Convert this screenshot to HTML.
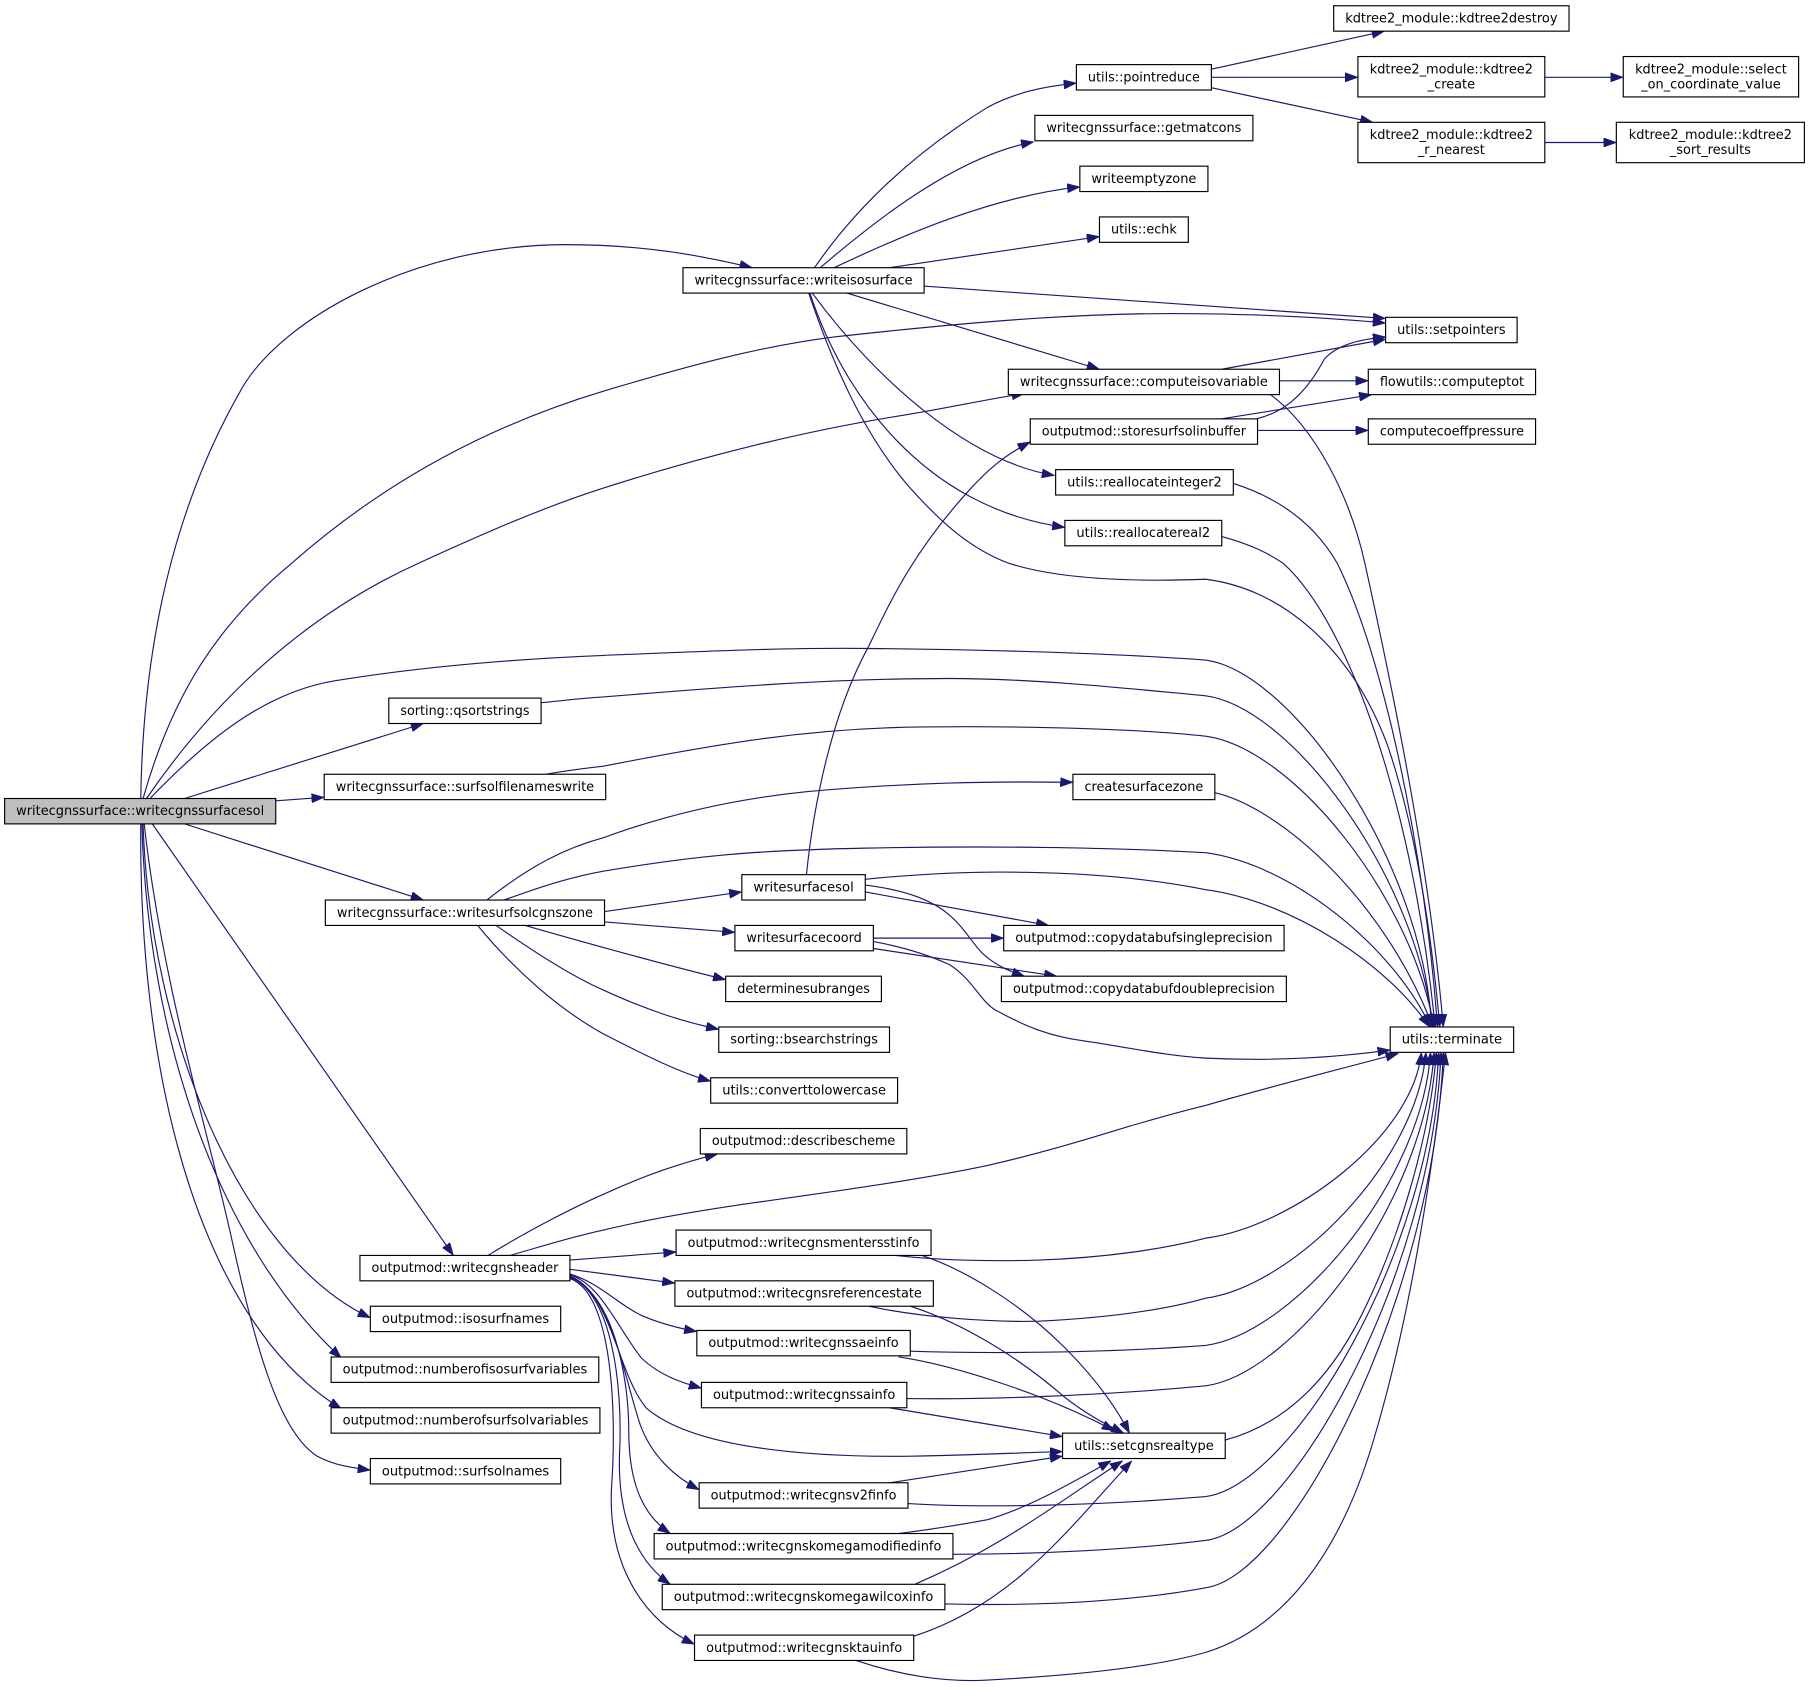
<!DOCTYPE html>
<html><head><meta charset="utf-8"><style>
html,body{margin:0;padding:0;background:#fff;}
svg{display:block;}
text{font-family:"DejaVu Sans","Liberation Sans",sans-serif;font-size:11.2px;fill:#000;}
</style></head><body>
<svg xmlns="http://www.w3.org/2000/svg" width="1809" height="1687" viewBox="0 0 1568 1462" preserveAspectRatio="none">
<defs>
<marker id="a" viewBox="0 0 11 8" refX="11" refY="4" markerWidth="11" markerHeight="8" markerUnits="userSpaceOnUse" orient="auto">
<path d="M0,0 L11,4 L0,8 z" fill="#191970" stroke="#191970" stroke-width="0.5"/>
</marker>
</defs>
<rect width="1568" height="1462" fill="#fff"/>
<g fill="none" stroke="#191970" stroke-width="1" marker-end="url(#a)">
<path d="M122,692 C124,560 150,440 210,336 C245,276 360,212 490,212 C560,212 610,222 652,232"/>
<path d="M124,692 C150,600 190,540 253,488 C330,420 420,370 523,339 C600,316 660,300 723,292 C850,278 950,270 1045,272 C1110,273 1160,276 1201,280"/>
<path d="M127,692 C190,600 270,530 363,488 C420,462 470,440 523,423 C610,395 700,373 776,361 C820,354 855,346 888,341"/>
<path d="M130,692 C180,640 230,600 290,590 C370,577 450,571 523,568 C600,565 680,561 753,562 C850,563 960,566 1045,572 C1120,582 1233,746 1241,890"/>
<path d="M160,692 L367,627"/>
<path d="M239,694 L281,691"/>
<path d="M160,714 L367,780"/>
<path d="M132,714 L393,1088"/>
<path d="M124,714 C130,900 210,1090 321,1142"/>
<path d="M123,714 C128,900 190,1080 296,1177"/>
<path d="M122,714 C120,950 180,1150 296,1221"/>
<path d="M125,714 C140,850 180,980 200,1070 C220,1160 240,1240 275,1262 C290,1270 305,1272 321,1274"/>
<path d="M706,232 C735,190 780,140 856,93 C880,80 905,75 933,72"/>
<path d="M711,232 C760,190 830,135 896,123"/>
<path d="M723,232 C780,205 860,170 936,162"/>
<path d="M771,232 L953,205"/>
<path d="M801,248 C950,258 1100,268 1201,276"/>
<path d="M734,254 L953,320"/>
<path d="M704,254 C760,330 840,400 914,412"/>
<path d="M702,254 C730,340 800,440 923,457"/>
<path d="M701,254 C730,340 760,390 789,423 C815,452 840,475 874,488 C920,503 990,504 1045,502 C1110,510 1170,560 1202,644 C1225,710 1240,800 1248,890"/>
<path d="M1050,60 L1200,27"/>
<path d="M1050,67 L1177,67"/>
<path d="M1050,76 L1190,106"/>
<path d="M1339,67 L1407,67"/>
<path d="M1339,123.5 L1401,123.5"/>
<path d="M1059,320 L1201,294"/>
<path d="M1109,330 L1186,330"/>
<path d="M1100,341 C1140,370 1170,430 1183,488 C1210,610 1240,760 1251,890"/>
<path d="M1089,363 C1110,358 1130,345 1148,311 C1160,298 1180,294 1201,292"/>
<path d="M1059,363 L1189,342"/>
<path d="M1090,373 L1186,373"/>
<path d="M1069,419 C1110,432 1140,455 1159,488 C1200,570 1235,740 1246,890"/>
<path d="M1059,465 C1085,472 1100,480 1112,488 C1170,540 1225,700 1244,890"/>
<path d="M469,609 C490,607 505,605 523,604 C620,596 720,588 822,588 C900,588 980,597 1045,603 C1120,613 1228,760 1242,890"/>
<path d="M473,671 C490,668 505,666 523,664 C620,645 700,631 800,630 C900,629 990,632 1045,638 C1120,648 1223,776 1243,890"/>
<path d="M422,780 C460,750 490,735 523,726 C580,705 640,692 700,686 C790,678 860,677 930,678"/>
<path d="M437,780 C470,768 495,760 523,755 C600,742 650,737 750,735 C850,733 960,734 1045,739 C1120,749 1208,821 1240,890"/>
<path d="M524,790 L643,773"/>
<path d="M524,799 L637,808"/>
<path d="M455,802 C490,812 560,832 629,849"/>
<path d="M430,802 C470,830 500,848 523,858 C560,875 590,885 623,892"/>
<path d="M414,802 C445,840 485,875 523,896 C560,915 590,930 616,937"/>
<path d="M1053,687 C1110,700 1200,780 1242,890"/>
<path d="M699,758 C705,700 720,620 753,560 C770,525 790,480 839,426 C855,408 870,395 893,383"/>
<path d="M750,762 C800,757 850,755 889,756 C950,757 1000,762 1045,771 C1120,781 1203,836 1239,890"/>
<path d="M750,773 L909,802"/>
<path d="M750,767 C790,772 810,782 823,793 C838,806 845,822 856,830 C866,838 876,842 888,846"/>
<path d="M757,813 L870,813"/>
<path d="M757,822 L916,846"/>
<path d="M757,816 C790,822 810,830 823,836 C845,850 850,870 866,877 C890,890 910,898 939,902 C980,908 1010,915 1045,917 C1110,920 1160,916 1205,910"/>
<path d="M423,1088 C460,1065 500,1045 523,1035 C560,1018 590,1008 622,1000"/>
<path d="M442,1088 C470,1080 495,1072 523,1066 C560,1057 600,1050 656,1042 C720,1033 800,1022 856,1010 C900,1000 940,988 979,976 C1000,970 1020,964 1045,958 C1100,942 1160,927 1212,913"/>
<path d="M494,1092 L586,1085"/>
<path d="M494,1100 L585,1112"/>
<path d="M494,1104 C520,1112 535,1130 556,1140 C572,1147 588,1151 604,1154"/>
<path d="M494,1105 C520,1112 535,1150 556,1177 C572,1192 590,1198 608,1203"/>
<path d="M494,1106 C530,1120 535,1190 560,1220 C600,1255 700,1263 790,1262 C840,1261 885,1259 921,1258"/>
<path d="M494,1106 C530,1120 540,1190 555,1235 C565,1262 585,1280 606,1291"/>
<path d="M494,1107 C530,1120 545,1190 545,1240 C545,1290 560,1315 581,1329"/>
<path d="M494,1107 C530,1120 540,1200 537,1260 C535,1320 555,1355 581,1373"/>
<path d="M494,1108 C530,1120 535,1220 530,1290 C527,1360 560,1405 602,1425"/>
<path d="M799,1088 C830,1098 880,1125 923,1168 C945,1190 965,1215 979,1242"/>
<path d="M776,1088 C820,1093 870,1093 900,1092 C960,1090 1010,1082 1045,1073 C1120,1063 1225,985 1232,912"/>
<path d="M789,1132 C820,1142 870,1165 923,1211 C945,1228 962,1236 974,1242"/>
<path d="M753,1132 C800,1142 860,1146 900,1145 C960,1142 1010,1135 1045,1125 C1120,1115 1228,1008 1236,912"/>
<path d="M779,1176 C820,1182 900,1205 966,1240"/>
<path d="M789,1171 C850,1173 950,1173 1045,1166 C1120,1156 1232,1027 1240,912"/>
<path d="M771,1220 L921,1245"/>
<path d="M786,1212 C850,1213 950,1210 1045,1201 C1120,1191 1235,1043 1243,912"/>
<path d="M1062,1248 C1110,1235 1150,1200 1180,1140 C1215,1070 1240,980 1245,912"/>
<path d="M771,1285 C830,1276 880,1268 921,1262"/>
<path d="M787,1303 C850,1307 950,1305 1045,1297 C1120,1287 1240,1086 1247,912"/>
<path d="M779,1329 C810,1325 840,1320 856,1317 C890,1307 920,1290 963,1266"/>
<path d="M826,1347 C900,1347 980,1343 1045,1335 C1120,1325 1242,1102 1249,912"/>
<path d="M793,1373 C870,1340 920,1300 973,1266"/>
<path d="M819,1390 C900,1392 980,1388 1045,1376 C1120,1366 1244,1121 1251,912"/>
<path d="M792,1418 C880,1390 930,1320 981,1266"/>
<path d="M742,1439 C780,1452 820,1458 856,1456 C930,1452 1000,1445 1045,1432 C1110,1412 1160,1350 1190,1250 C1220,1150 1240,1030 1253,912"/>
</g>
<g stroke="#000" stroke-width="1" fill="#fff">
<rect x="4" y="692" width="235" height="22" fill="#bfbfbf"/>
<rect x="592" y="232" width="209" height="22"/>
<rect x="933" y="56" width="117" height="22"/>
<rect x="897" y="100" width="189" height="22"/>
<rect x="936" y="144" width="111" height="22"/>
<rect x="953" y="188" width="77" height="22"/>
<rect x="874" y="320" width="235" height="22"/>
<rect x="893" y="363" width="197" height="22"/>
<rect x="915" y="407" width="154" height="22"/>
<rect x="923" y="451" width="136" height="22"/>
<rect x="1156" y="5" width="204" height="22"/>
<rect x="1177" y="49" width="162" height="35"/>
<rect x="1177" y="106" width="162" height="35"/>
<rect x="1407" y="49" width="152" height="35"/>
<rect x="1401" y="106" width="163" height="35"/>
<rect x="1201" y="275" width="114" height="22"/>
<rect x="1186" y="320" width="145" height="22"/>
<rect x="1186" y="363" width="145" height="22"/>
<rect x="337" y="605" width="132" height="22"/>
<rect x="281" y="671" width="244" height="22"/>
<rect x="282" y="780" width="242" height="22"/>
<rect x="930" y="671" width="123" height="22"/>
<rect x="643" y="758" width="107" height="22"/>
<rect x="637" y="802" width="120" height="22"/>
<rect x="629" y="846" width="135" height="22"/>
<rect x="623" y="890" width="148" height="22"/>
<rect x="616" y="934" width="162" height="22"/>
<rect x="870" y="802" width="243" height="22"/>
<rect x="868" y="846" width="247" height="22"/>
<rect x="1205" y="890" width="107" height="22"/>
<rect x="312" y="1088" width="182" height="22"/>
<rect x="321" y="1132" width="165" height="22"/>
<rect x="287" y="1176" width="232" height="22"/>
<rect x="287" y="1220" width="233" height="22"/>
<rect x="321" y="1264" width="165" height="22"/>
<rect x="607" y="978" width="179" height="22"/>
<rect x="586" y="1066" width="221" height="22"/>
<rect x="585" y="1110" width="224" height="22"/>
<rect x="604" y="1153" width="185" height="22"/>
<rect x="608" y="1198" width="178" height="22"/>
<rect x="921" y="1242" width="141" height="22"/>
<rect x="606" y="1285" width="181" height="22"/>
<rect x="567" y="1329" width="259" height="22"/>
<rect x="574" y="1373" width="245" height="22"/>
<rect x="602" y="1417" width="190" height="22"/>
</g>
<g text-anchor="middle">
<text x="121.5" y="706.5" textLength="215" lengthAdjust="spacingAndGlyphs">writecgnssurface::writecgnssurfacesol</text>
<text x="696.5" y="246.5" textLength="189" lengthAdjust="spacingAndGlyphs">writecgnssurface::writeisosurface</text>
<text x="991.5" y="70.5" textLength="97" lengthAdjust="spacingAndGlyphs">utils::pointreduce</text>
<text x="991.5" y="114.5" textLength="169" lengthAdjust="spacingAndGlyphs">writecgnssurface::getmatcons</text>
<text x="991.5" y="158.5" textLength="91" lengthAdjust="spacingAndGlyphs">writeemptyzone</text>
<text x="991.5" y="202.5" textLength="57" lengthAdjust="spacingAndGlyphs">utils::echk</text>
<text x="991.5" y="334.5" textLength="215" lengthAdjust="spacingAndGlyphs">writecgnssurface::computeisovariable</text>
<text x="991.5" y="377.5" textLength="177" lengthAdjust="spacingAndGlyphs">outputmod::storesurfsolinbuffer</text>
<text x="992" y="421.5" textLength="134" lengthAdjust="spacingAndGlyphs">utils::reallocateinteger2</text>
<text x="991" y="465.5" textLength="116" lengthAdjust="spacingAndGlyphs">utils::reallocatereal2</text>
<text x="1258" y="19.5" textLength="184" lengthAdjust="spacingAndGlyphs">kdtree2_module::kdtree2destroy</text>
<text x="1258" y="63.5">kdtree2_module::kdtree2</text>
<text x="1258" y="76.5">_create</text>
<text x="1258" y="120.5">kdtree2_module::kdtree2</text>
<text x="1258" y="133.5">_r_nearest</text>
<text x="1483" y="63.5">kdtree2_module::select</text>
<text x="1483" y="76.5">_on_coordinate_value</text>
<text x="1482.5" y="120.5">kdtree2_module::kdtree2</text>
<text x="1482.5" y="133.5">_sort_results</text>
<text x="1258" y="289.5" textLength="94" lengthAdjust="spacingAndGlyphs">utils::setpointers</text>
<text x="1258.5" y="334.5" textLength="125" lengthAdjust="spacingAndGlyphs">flowutils::computeptot</text>
<text x="1258.5" y="377.5" textLength="125" lengthAdjust="spacingAndGlyphs">computecoeffpressure</text>
<text x="403" y="619.5" textLength="112" lengthAdjust="spacingAndGlyphs">sorting::qsortstrings</text>
<text x="403" y="685.5" textLength="224" lengthAdjust="spacingAndGlyphs">writecgnssurface::surfsolfilenameswrite</text>
<text x="403" y="794.5" textLength="222" lengthAdjust="spacingAndGlyphs">writecgnssurface::writesurfsolcgnszone</text>
<text x="991.5" y="685.5" textLength="103" lengthAdjust="spacingAndGlyphs">createsurfacezone</text>
<text x="696.5" y="772.5" textLength="87" lengthAdjust="spacingAndGlyphs">writesurfacesol</text>
<text x="697" y="816.5" textLength="100" lengthAdjust="spacingAndGlyphs">writesurfacecoord</text>
<text x="696.5" y="860.5" textLength="115" lengthAdjust="spacingAndGlyphs">determinesubranges</text>
<text x="697" y="904.5" textLength="128" lengthAdjust="spacingAndGlyphs">sorting::bsearchstrings</text>
<text x="697" y="948.5" textLength="142" lengthAdjust="spacingAndGlyphs">utils::converttolowercase</text>
<text x="991.5" y="816.5" textLength="223" lengthAdjust="spacingAndGlyphs">outputmod::copydatabufsingleprecision</text>
<text x="991.5" y="860.5" textLength="227" lengthAdjust="spacingAndGlyphs">outputmod::copydatabufdoubleprecision</text>
<text x="1258.5" y="904.5" textLength="87" lengthAdjust="spacingAndGlyphs">utils::terminate</text>
<text x="403" y="1102.5" textLength="162" lengthAdjust="spacingAndGlyphs">outputmod::writecgnsheader</text>
<text x="403.5" y="1146.5" textLength="145" lengthAdjust="spacingAndGlyphs">outputmod::isosurfnames</text>
<text x="403" y="1190.5" textLength="212" lengthAdjust="spacingAndGlyphs">outputmod::numberofisosurfvariables</text>
<text x="403.5" y="1234.5" textLength="213" lengthAdjust="spacingAndGlyphs">outputmod::numberofsurfsolvariables</text>
<text x="403.5" y="1278.5" textLength="145" lengthAdjust="spacingAndGlyphs">outputmod::surfsolnames</text>
<text x="696.5" y="992.5" textLength="159" lengthAdjust="spacingAndGlyphs">outputmod::describescheme</text>
<text x="696.5" y="1080.5" textLength="201" lengthAdjust="spacingAndGlyphs">outputmod::writecgnsmentersstinfo</text>
<text x="697" y="1124.5" textLength="204" lengthAdjust="spacingAndGlyphs">outputmod::writecgnsreferencestate</text>
<text x="696.5" y="1167.5" textLength="165" lengthAdjust="spacingAndGlyphs">outputmod::writecgnssaeinfo</text>
<text x="697" y="1212.5" textLength="158" lengthAdjust="spacingAndGlyphs">outputmod::writecgnssainfo</text>
<text x="991.5" y="1256.5" textLength="121" lengthAdjust="spacingAndGlyphs">utils::setcgnsrealtype</text>
<text x="696.5" y="1299.5" textLength="161" lengthAdjust="spacingAndGlyphs">outputmod::writecgnsv2finfo</text>
<text x="696.5" y="1343.5" textLength="239" lengthAdjust="spacingAndGlyphs">outputmod::writecgnskomegamodifiedinfo</text>
<text x="696.5" y="1387.5" textLength="225" lengthAdjust="spacingAndGlyphs">outputmod::writecgnskomegawilcoxinfo</text>
<text x="697" y="1431.5" textLength="170" lengthAdjust="spacingAndGlyphs">outputmod::writecgnsktauinfo</text>
</g>
</svg>
</body></html>
